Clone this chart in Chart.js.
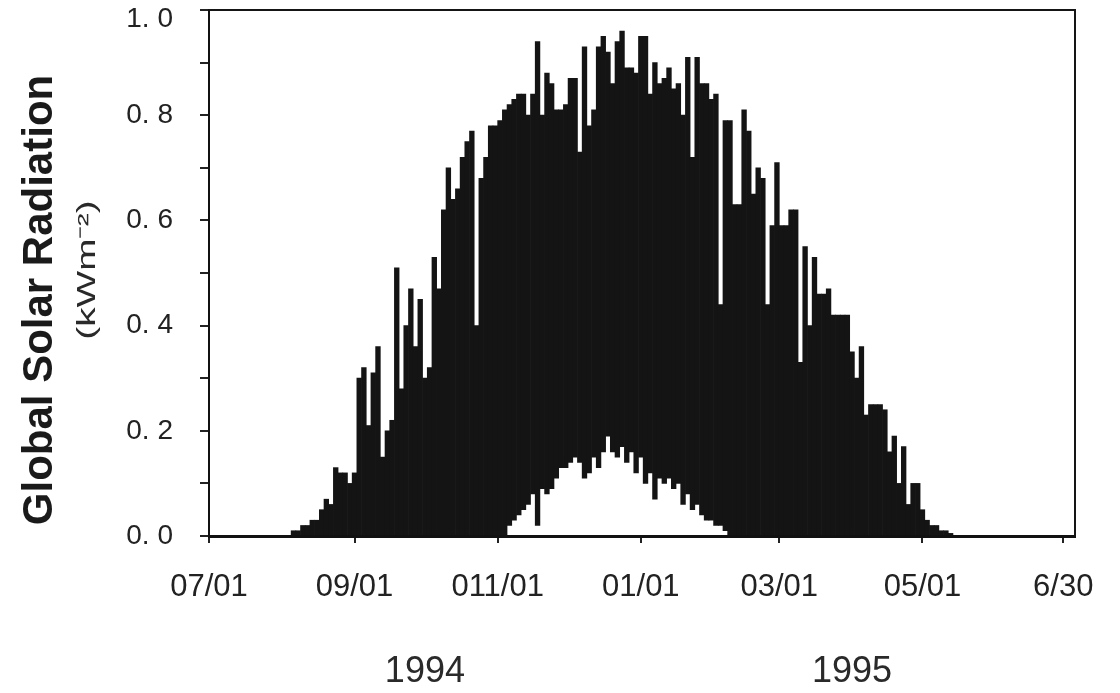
<!DOCTYPE html>
<html>
<head>
<meta charset="utf-8">
<script src="https://cdn.jsdelivr.net/npm/chart.js@4/dist/chart.umd.min.js"></script>
<style>
html,body{margin:0;padding:0;background:#ffffff;}
#wrap{width:1120px;height:693px;position:relative;}
</style>
</head>
<body>
<div id="wrap"><canvas id="c" width="1120" height="693"></canvas></div>
<script>
// Day offsets counted from 1994-07-01 (2-day sampling)
const dayOffsets = [
  36,38,40,42,44,46,48,50,52,54,
  56,58,60,62,64,66,68,70,72,74,
  76,78,80,82,84,86,88,90,92,94,
  96,98,100,102,104,106,108,110,112,114,
  116,118,120,122,124,126,128,130,132,134,
  136,138,140,142,144,146,148,150,152,154,
  156,158,160,162,164,166,168,170,172,174,
  176,178,180,182,184,186,188,190,192,194,
  196,198,200,202,204,206,208,210,212,214,
  216,218,220,222,224,226,228,230,232,234,
  236,238,240,242,244,246,248,250,252,254,
  256,258,260,262,264,266,268,270,272,274,
  276,278,280,282,284,286,288,290,292,294,
  296,298,300,302,304,306,308,310,312,314,
  316
];
// Upper envelope (daily maximum, kW m-2)
const dailyMax = [
  0.01,0.01,0.02,0.02,0.03,0.03,0.05,0.07,0.06,0.13,
  0.12,0.12,0.10,0.12,0.30,0.32,0.21,0.31,0.36,0.15,
  0.20,0.22,0.51,0.28,0.40,0.47,0.36,0.45,0.30,0.32,
  0.53,0.47,0.62,0.70,0.64,0.66,0.72,0.75,0.77,0.40,
  0.68,0.72,0.78,0.78,0.79,0.81,0.82,0.83,0.84,0.84,
  0.80,0.84,0.94,0.80,0.88,0.86,0.81,0.81,0.82,0.87,
  0.87,0.73,0.93,0.78,0.81,0.93,0.95,0.92,0.86,0.94,
  0.96,0.89,0.89,0.88,0.95,0.95,0.84,0.90,0.86,0.87,
  0.89,0.85,0.86,0.80,0.91,0.72,0.91,0.86,0.86,0.83,
  0.84,0.44,0.79,0.79,0.63,0.63,0.81,0.77,0.65,0.70,
  0.68,0.44,0.59,0.71,0.59,0.59,0.62,0.62,0.33,0.55,
  0.40,0.53,0.46,0.46,0.47,0.42,0.42,0.42,0.42,0.35,
  0.30,0.36,0.23,0.25,0.25,0.25,0.24,0.16,0.19,0.10,
  0.17,0.06,0.10,0.10,0.05,0.03,0.02,0.02,0.01,0.01,
  0.005
];
// Lower envelope (daily minimum, kW m-2) - sun stays up around midsummer
const dailyMin = [
  0,0,0,0,0,0,0,0,0,0,
  0,0,0,0,0,0,0,0,0,0,
  0,0,0,0,0,0,0,0,0,0,
  0,0,0,0,0,0,0,0,0,0,
  0,0,0,0,0,0,0.02,0.03,0.04,0.05,
  0.06,0.08,0.02,0.09,0.08,0.09,0.11,0.13,0.13,0.14,
  0.15,0.14,0.11,0.12,0.15,0.13,0.16,0.19,0.16,0.15,
  0.17,0.14,0.16,0.12,0.15,0.10,0.12,0.07,0.11,0.10,
  0.11,0.09,0.10,0.06,0.08,0.05,0.06,0.04,0.03,0.03,
  0.02,0.02,0.01,0,0,0,0,0,0,0,
  0,0,0,0,0,0,0,0,0,0,
  0,0,0,0,0,0,0,0,0,0,
  0,0,0,0,0,0,0,0,0,0,
  0,0,0,0,0,0,0,0,0,0,
  0
];
// X tick positions (days from 1994-07-01) and labels
const xTickDays = [0, 62, 123, 184, 243, 304, 364];
const xTickLabels = ['07/01', '09/01', '011/01', '01/01', '03/01', '05/01', '6/30'];
// Year labels centred under each half of the period
const yearLabels = ['1994', '1995'];
const yearCenterDays = [92, 274];
const yTitle = 'Global Solar Radiation';
const yUnits = '(kWm\u207B\u00B2)';

const FONT = '"Liberation Sans", Arial, Helvetica, sans-serif';

const fmtY = v => v.toFixed(1).replace('.', '. ');
const bars = dayOffsets.map((d, i) => ({ x: d, y: [dailyMin[i], dailyMax[i]] }));

const decor = {
  id: 'decor',
  afterDraw(chart) {
    const { ctx, chartArea: a, scales } = chart;
    ctx.save();
    // frame top & right
    ctx.strokeStyle = '#151515';
    ctx.lineWidth = 2;
    ctx.beginPath();
    ctx.moveTo(a.left, a.top);
    ctx.lineTo(a.right, a.top);
    ctx.lineTo(a.right, a.bottom);
    ctx.stroke();
    // top y label (kept inside the canvas, as in the original figure)
    ctx.font = '28px ' + FONT;
    ctx.fillStyle = '#222';
    ctx.textAlign = 'right';
    ctx.textBaseline = 'middle';
    ctx.fillText(fmtY(scales.y.max), a.left - 9 - 27, a.top + 9);
    // y title
    ctx.fillStyle = '#1a1a1a';
    ctx.save();
    ctx.translate(40, 300);
    ctx.rotate(-Math.PI / 2);
    ctx.font = 'bold 42px ' + FONT;
    ctx.textAlign = 'center';
    ctx.textBaseline = 'middle';
    ctx.fillText(yTitle, 0, 0);
    ctx.restore();
    // units
    ctx.save();
    ctx.translate(88, 270);
    ctx.rotate(-Math.PI / 2);
    ctx.scale(1.55, 1);
    ctx.font = '25px ' + FONT;
    ctx.textAlign = 'center';
    ctx.textBaseline = 'middle';
    ctx.fillStyle = '#2a2a2a';
    ctx.fillText(yUnits, 0, 0);
    ctx.restore();
    // year labels
    ctx.font = '36px ' + FONT;
    ctx.fillStyle = '#2a2a2a';
    ctx.textAlign = 'center';
    ctx.textBaseline = 'middle';
    yearLabels.forEach((t, i) => {
      ctx.fillText(t, scales.x.getPixelForValue(yearCenterDays[i]), 672);
    });
    ctx.restore();
  }
};

new Chart(document.getElementById('c'), {
  type: 'bar',
  data: {
    datasets: [{
      data: bars,
      backgroundColor: '#141414',
      borderWidth: 0,
      barPercentage: 1,
      categoryPercentage: 1,
      grouped: false
    }]
  },
  options: {
    responsive: false,
    animation: false,
    events: [],
    layout: { padding: { top: 10, right: 45, left: 0, bottom: 0 } },
    plugins: { legend: { display: false }, tooltip: { enabled: false } },
    scales: {
      x: {
        type: 'linear',
        min: 0,
        max: 369,
        offset: false,
        afterFit(s) { s.height = 157; s.paddingLeft = 0; s.paddingRight = 0; },
        afterBuildTicks(s) { s.ticks = xTickDays.map(v => ({ value: v })); },
        grid: { display: true, drawOnChartArea: false, drawTicks: true, tickLength: 7, color: '#222', lineWidth: 2, offset: false },
        border: { display: true, color: '#111', width: 3 },
        ticks: {
          autoSkip: false,
          maxRotation: 0,
          padding: 26,
          color: '#222',
          font: { family: FONT, size: 31 },
          callback(v) { const i = xTickDays.indexOf(v); return i >= 0 ? xTickLabels[i] : ''; }
        }
      },
      y: {
        min: 0,
        max: 1,
        afterFit(s) { s.width = 209; s.paddingTop = 0; s.paddingBottom = 0; },
        grid: { display: true, drawOnChartArea: false, drawTicks: true, tickLength: 9, color: '#222', lineWidth: 2 },
        border: { display: true, color: '#111', width: 2 },
        ticks: {
          stepSize: 0.1,
          padding: 27,
          color: '#222',
          font: { family: FONT, size: 28 },
          callback(v) {
            const k = Math.round(v * 10);
            if (k === 10) return '';
            return k % 2 === 0 ? fmtY(k / 10) : '';
          }
        }
      }
    }
  },
  plugins: [decor]
});
</script>
</body>
</html>
